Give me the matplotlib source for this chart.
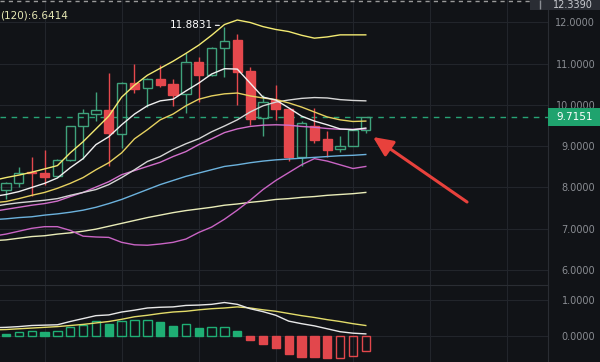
import matplotlib
matplotlib.use("Agg")
import matplotlib.pyplot as plt
from matplotlib.patches import Rectangle
import numpy as np

# candles
opens = [7.93, 8.11, 8.37, 8.35, 8.27, 8.67, 9.48, 9.78, 9.88, 9.30, 10.54, 10.40, 10.64, 10.51, 10.26,
         11.04, 10.72, 11.37, 11.57, 10.83, 9.68, 10.12, 9.90, 8.75, 9.48, 9.17, 8.94, 9.00, 9.40]
closes = [8.11, 8.34, 8.34, 8.26, 8.67, 9.48, 9.80, 9.88, 9.33, 10.54, 10.39, 10.64, 10.48, 10.24, 11.04,
          10.72, 11.37, 11.55, 10.80, 9.66, 10.08, 9.90, 8.75, 9.56, 9.16, 8.92, 9.00, 9.40, 9.7151]
highs = [8.13, 8.50, 8.74, 8.92, 8.68, 9.50, 9.90, 10.32, 10.78, 10.56, 11.00, 10.66, 10.96, 10.62, 11.25,
         11.16, 11.40, 11.8831, 11.71, 10.92, 10.24, 10.48, 9.90, 9.60, 9.92, 9.36, 9.24, 9.40, 9.72]
lows = [7.71, 8.02, 7.79, 8.05, 8.25, 8.65, 8.69, 9.61, 8.51, 8.96, 10.28, 9.96, 10.43, 9.98, 9.81,
        10.08, 10.70, 10.68, 10.00, 9.51, 9.24, 9.64, 8.63, 8.51, 9.08, 8.74, 8.87, 9.00, 9.32]

# moving average / band lines, first value is one bar before the first candle
bb_up = [8.17, 8.24, 8.30, 8.37, 8.45, 8.53, 8.84, 9.11, 9.42, 9.73, 10.19, 10.48, 10.72, 10.89, 11.06,
         11.25, 11.45, 11.69, 11.95, 12.06, 12.00, 11.90, 11.83, 11.78, 11.69, 11.62, 11.65, 11.70, 11.70, 11.70]
ma5 = [7.78, 7.83, 7.90, 8.00, 8.10, 8.23, 8.48, 8.70, 9.04, 9.23, 9.52, 9.78, 9.98, 10.10, 10.14,
       10.34, 10.53, 10.75, 10.88, 10.87, 10.53, 10.19, 10.12, 9.93, 9.73, 9.61, 9.52, 9.42, 9.40, 9.44]
ma10 = [7.63, 7.66, 7.73, 7.81, 7.88, 7.98, 8.10, 8.24, 8.43, 8.60, 8.84, 9.18, 9.40, 9.64, 9.78,
        9.98, 10.14, 10.22, 10.27, 10.29, 10.22, 10.17, 10.13, 10.05, 9.95, 9.83, 9.71, 9.64, 9.60, 9.61]
bb_mid = [7.54, 7.59, 7.63, 7.66, 7.69, 7.73, 7.81, 7.88, 7.95, 8.07, 8.24, 8.43, 8.63, 8.75, 8.92,
          9.06, 9.18, 9.35, 9.49, 9.64, 9.83, 9.98, 10.07, 10.12, 10.16, 10.18, 10.17, 10.13, 10.11, 10.10]
ma30 = [7.42, 7.47, 7.52, 7.57, 7.61, 7.67, 7.78, 7.88, 8.01, 8.14, 8.31, 8.41, 8.51, 8.61, 8.75,
        8.87, 9.04, 9.18, 9.33, 9.42, 9.48, 9.51, 9.52, 9.51, 9.48, 9.46, 9.43, 9.41, 9.41, 9.42]
ma60 = [7.22, 7.24, 7.27, 7.29, 7.33, 7.36, 7.40, 7.45, 7.52, 7.61, 7.71, 7.83, 7.95, 8.07, 8.17,
        8.27, 8.35, 8.43, 8.51, 8.55, 8.60, 8.64, 8.67, 8.69, 8.71, 8.73, 8.75, 8.77, 8.78, 8.80]
bb_low = [6.82, 6.87, 6.94, 7.01, 7.05, 7.05, 6.96, 6.82, 6.80, 6.79, 6.67, 6.61, 6.60, 6.63, 6.67,
          6.75, 6.91, 7.04, 7.23, 7.45, 7.69, 7.95, 8.17, 8.36, 8.55, 8.70, 8.64, 8.55, 8.46, 8.51]
ma120 = [6.71, 6.73, 6.77, 6.81, 6.83, 6.87, 6.90, 6.94, 6.99, 7.06, 7.13, 7.20, 7.27, 7.33, 7.39,
         7.44, 7.48, 7.52, 7.57, 7.60, 7.64, 7.67, 7.71, 7.73, 7.76, 7.78, 7.81, 7.83, 7.85, 7.88]

# MACD
macd_hist = [0.07, 0.11, 0.14, 0.12, 0.14, 0.26, 0.32, 0.41, 0.33, 0.43, 0.44, 0.45, 0.39, 0.30, 0.33,
             0.24, 0.27, 0.27, 0.14, -0.09, -0.20, -0.31, -0.49, -0.55, -0.57, -0.60, -0.59, -0.54, -0.40]
dif = [0.24, 0.25, 0.27, 0.30, 0.31, 0.32, 0.41, 0.49, 0.57, 0.59, 0.67, 0.72, 0.78, 0.80, 0.81,
       0.85, 0.86, 0.88, 0.93, 0.88, 0.76, 0.68, 0.58, 0.42, 0.35, 0.29, 0.21, 0.13, 0.09, 0.07]
dea = [0.18, 0.19, 0.21, 0.23, 0.25, 0.27, 0.30, 0.33, 0.37, 0.41, 0.47, 0.54, 0.58, 0.63, 0.67,
       0.69, 0.73, 0.76, 0.78, 0.81, 0.78, 0.73, 0.69, 0.63, 0.57, 0.52, 0.46, 0.41, 0.35, 0.30]

price_ticks = [6, 7, 8, 9, 10, 11, 12]
macd_ticks = [0, 1]
last_price = 9.7151
high_price = 11.8831
ma120_label = "(120):6.6414"
top_label = "12.3390"

bg = "#111317"
grid_c = "#22252b"
txt_c = "#8a8d93"
green = "#3fa27c"
red = "#e5484d"

fig = plt.figure(figsize=(6, 3.62), dpi=100, facecolor=bg)
ax = fig.add_axes([0, 77 / 362, 548 / 600, 285 / 362], facecolor=bg)
ax2 = fig.add_axes([0, 0, 548 / 600, 77 / 362], facecolor=bg)

x = np.arange(len(opens))
xl = np.arange(-1, len(opens))

for a in (ax, ax2):
    a.set_xlim(-0.467, 42.18)
    a.set_xticks([3, 9, 15, 21, 27, 33, 39])
    a.tick_params(axis="x", length=0, labelbottom=False)
    a.grid(True, color=grid_c, lw=0.8)
    a.set_axisbelow(True)
    for s in ["left", "bottom"]:
        a.spines[s].set_visible(False)
    a.spines["right"].set_color("#2a2d33")
    a.spines["top"].set_color("#2a2d33")
    a.yaxis.tick_right()
    a.tick_params(axis="y", length=0, pad=34, labelsize=7, labelcolor=txt_c)

ax.spines["top"].set_visible(False)
ax.set_ylim(5.636, 12.545)
ax.set_yticks(price_ticks)
ax.set_yticklabels(["%.4f" % v for v in price_ticks])
ax2.set_ylim(-0.70, 1.41)
ax2.set_yticks(macd_ticks)
ax2.set_yticklabels(["%.4f" % v for v in macd_ticks])
for a in (ax, ax2):
    for lbl in a.get_yticklabels():
        lbl.set_horizontalalignment("right")

# candles
w = 0.72
for i in x:
    o, c, h, l = opens[i], closes[i], highs[i], lows[i]
    up = c >= o
    col = green if up else red
    top, bot = max(o, c), min(o, c)
    ax.vlines(i, top, h, color=col, lw=1, zorder=3)
    ax.vlines(i, l, bot, color=col, lw=1, zorder=3)
    ax.bar(i, max(top - bot, 0.02), bottom=bot, width=w, facecolor="none" if up else red,
           edgecolor=col, lw=1, zorder=3)

ax.plot(xl, ma120, color="#e9ecb8", lw=1, zorder=4)
ax.plot(xl, bb_low, color="#c964c4", lw=1, zorder=4)
ax.plot(xl, ma60, color="#6cb2dd", lw=1, zorder=4)
ax.plot(xl, ma30, color="#d26fcb", lw=1, zorder=4)
ax.plot(xl, bb_mid, color="#d6d6d6", lw=1, zorder=4)
ax.plot(xl, ma10, color="#e6d160", lw=1, zorder=4)
ax.plot(xl, ma5, color="#f0f0f0", lw=1, zorder=4)
ax.plot(xl, bb_up, color="#f3ea72", lw=1, zorder=4)

ax.axhline(last_price, color="#27a376", lw=1, ls=(0, (4, 4)), zorder=2)
ax.add_patch(Rectangle((1.0, last_price - 0.218), 0.0949, 0.436, transform=ax.get_yaxis_transform(),
                       facecolor="#1fa36e", edgecolor="none", clip_on=False, zorder=6))
ax.text(1.082, last_price, "%.4f" % last_price, transform=ax.get_yaxis_transform(), ha="right",
        va="center", color="white", fontsize=7.5, zorder=7, clip_on=False)

ax.add_patch(Rectangle((0.967, 12.30), 0.13, 1.0, transform=ax.get_yaxis_transform(),
                       facecolor="#2a2d34", edgecolor="none", clip_on=False, zorder=6))
ax.vlines(0.985, 12.33, 12.54, transform=ax.get_yaxis_transform(), color="#8a8d93", lw=1,
          clip_on=False, zorder=7)
ax.text(1.082, 12.43, top_label, transform=ax.get_yaxis_transform(), ha="right", va="center",
        color="#c8cacf", fontsize=7, zorder=7, clip_on=False)

ax.text(0.0, 1 - 15 / 285, ma120_label, transform=ax.transAxes, ha="left", va="center",
        color="#e6e8b4", fontsize=7.5)

ax.annotate("%.4f" % high_price, xy=(16.6, 11.93), xytext=(14.4, 11.94), ha="center", va="center",
            color="white", fontsize=7.5,
            arrowprops=dict(arrowstyle="-", color="white", lw=0.8, shrinkA=3, shrinkB=0))

ax.annotate("", xy=(28.56, 9.224), xytext=(35.88, 7.648),
            arrowprops=dict(arrowstyle="-|>,head_length=1.2,head_width=0.55", color="#e8413c", lw=2.2,
                            shrinkA=0, shrinkB=0))

fig.add_artist(plt.Line2D([0, 530 / 600], [1 - 1 / 362] * 2, transform=fig.transFigure,
                          color="#9a9a9a", lw=1, ls=(0, (3, 3))))

# MACD panel
prev = [macd_hist[0] + 1] + macd_hist[:-1]
for i in x:
    v = macd_hist[i]
    filled = v < prev[i]
    col = "#1fae74" if v >= 0 else "#e2474c"
    ax2.bar(i, v, width=0.65, facecolor=col if filled else "none", edgecolor=col, lw=1, zorder=3)
ax2.plot(xl, dea, color="#e3dc6a", lw=1, zorder=4)
ax2.plot(xl, dif, color="#e8e8e8", lw=1, zorder=4)

plt.savefig("out.png", dpi=100, facecolor=bg)
